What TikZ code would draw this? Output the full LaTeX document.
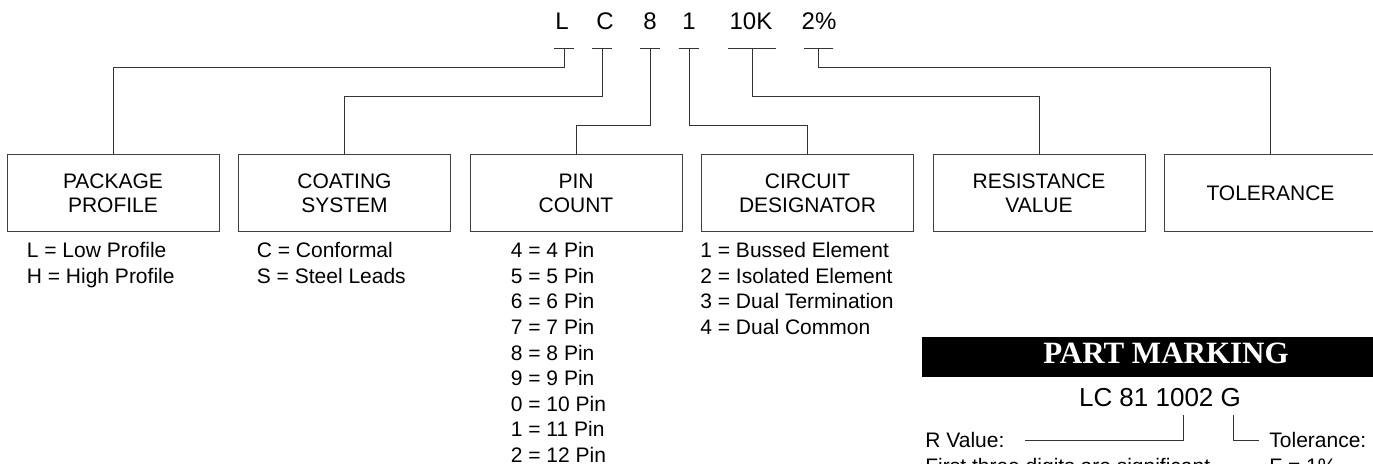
\documentclass[tikz,border=0pt]{standalone}
\usepackage{fontspec}
\setmainfont{Liberation Sans}
\newfontfamily\headfont{Liberation Serif}
\usetikzlibrary{positioning}

\begin{document}
\begin{tikzpicture}[
  x=0.5pt, y=-0.5pt,
  node distance=9.25pt,
  box/.style={rectangle, draw=black!75, line width=0.5pt, minimum width=106pt, minimum height=38.5pt, inner sep=0pt, align=center, font=\fontsize{10.5}{12}\selectfont},
  code/.style={anchor=base, inner sep=0pt, font=\fontsize{12}{14}\selectfont},
  legend/.style={anchor=north west, inner sep=0pt, align=left, font=\fontsize{10.5}{12.8}\selectfont},
  note/.style={anchor=base west, inner sep=0pt, font=\fontsize{10.5}{12.8}\selectfont},
  wire/.style={draw=black!80, line width=0.5pt}
]
\useasboundingbox (0,0) rectangle (1373,464);
\clip (0,0) rectangle (1373,464);

% part number code
\node[code] (cprofile) at (562,30) {L};
\node[code] (ccoat) at (605,30) {C};
\node[code] (cpins) at (650,30) {8};
\node[code] (ccircuit) at (689,30) {1};
\node[code] (cres) at (751,30) {10K};
\node[code] (ctol) at (819,30) {2\%};
\coordinate (bprofile) at (564,49);
\coordinate (bcoat) at (602,49);
\coordinate (bpins) at (650,49);
\coordinate (bcircuit) at (689,49);
\coordinate (bres) at (752,49);
\coordinate (btol) at (818,49);
\draw[wire] ([xshift=-5pt]bprofile) -- ([xshift=5pt]bprofile);
\draw[wire] ([xshift=-5pt]bcoat) -- ([xshift=5pt]bcoat);
\draw[wire] ([xshift=-5pt]bpins) -- ([xshift=5pt]bpins);
\draw[wire] ([xshift=-5pt]bcircuit) -- ([xshift=5pt]bcircuit);
\draw[wire] ([xshift=-12pt]bres) -- ([xshift=12pt]bres);
\draw[wire] ([xshift=-7pt]btol) -- ([xshift=7.5pt]btol);

% field boxes
\node[box] (profile) at (113,193.5) {PACKAGE\\PROFILE};
\node[box, right=of profile] (coating) {COATING\\SYSTEM};
\node[box, right=of coating] (pincount) {PIN\\COUNT};
\node[box, right=of pincount] (circuit) {CIRCUIT\\DESIGNATOR};
\node[box, right=of circuit] (resist) {RESISTANCE\\VALUE};
\node[box, right=of resist] (toler) {TOLERANCE};

\draw[wire] (bprofile) -- ++(0,19) -| (profile.north);
\draw[wire] (bcoat) -- ++(0,48) -| (coating.north);
\draw[wire] (bpins) -- ++(0,77) -| (pincount.north);
\draw[wire] (bcircuit) -- ++(0,77) -| (circuit.north);
\draw[wire] (bres) -- ++(0,48) -| (resist.north);
\draw[wire] (btol) -- ++(0,19) -| (toler.north);

% options under the boxes
\node[legend] (lprofile) at (26.5,242) {L = Low Profile\\H = High Profile};
\node[legend] (lcoat) at (256.5,242) {C = Conformal\\S = Steel Leads};
\node[legend] (lpins) at (510.5,242) {4 = 4 Pin\\5 = 5 Pin\\6 = 6 Pin\\7 = 7 Pin\\8 = 8 Pin\\9 = 9 Pin\\0 = 10 Pin\\1 = 11 Pin\\2 = 12 Pin};
\node[legend] (lcircuit) at (700,242) {1 = Bussed Element\\2 = Isolated Element\\3 = Dual Termination\\4 = Dual Common};

% part marking
\node[fill=black, text=white, minimum width=244pt, minimum height=20pt, text depth=3.5pt, inner sep=0pt,
  font=\headfont\bfseries\fontsize{15.5}{18}\selectfont] (pmhead) at (1166,357) {PART MARKING};
\node[anchor=base, inner sep=0pt, font=\fontsize{13}{15}\selectfont] (pnum) at (1160,407) {LC 81 1002 G};
\coordinate (rtop) at (1183,415);
\coordinate (gtop) at (1233,415);
\node[note] (rval) at (925,448) {R Value:};
\node[note] (rdigits) at (925,474) {First three digits are significant};
\node[note] (tolab) at (1269,448) {Tolerance:};
\node[note] (tolf) at (1269,474) {F = 1\%};
\draw[wire] (rval.east) ++(10pt,0) -| (rtop);
\draw[wire] (gtop) |- ([xshift=-5pt]tolab.west);
\end{tikzpicture}
\end{document}
